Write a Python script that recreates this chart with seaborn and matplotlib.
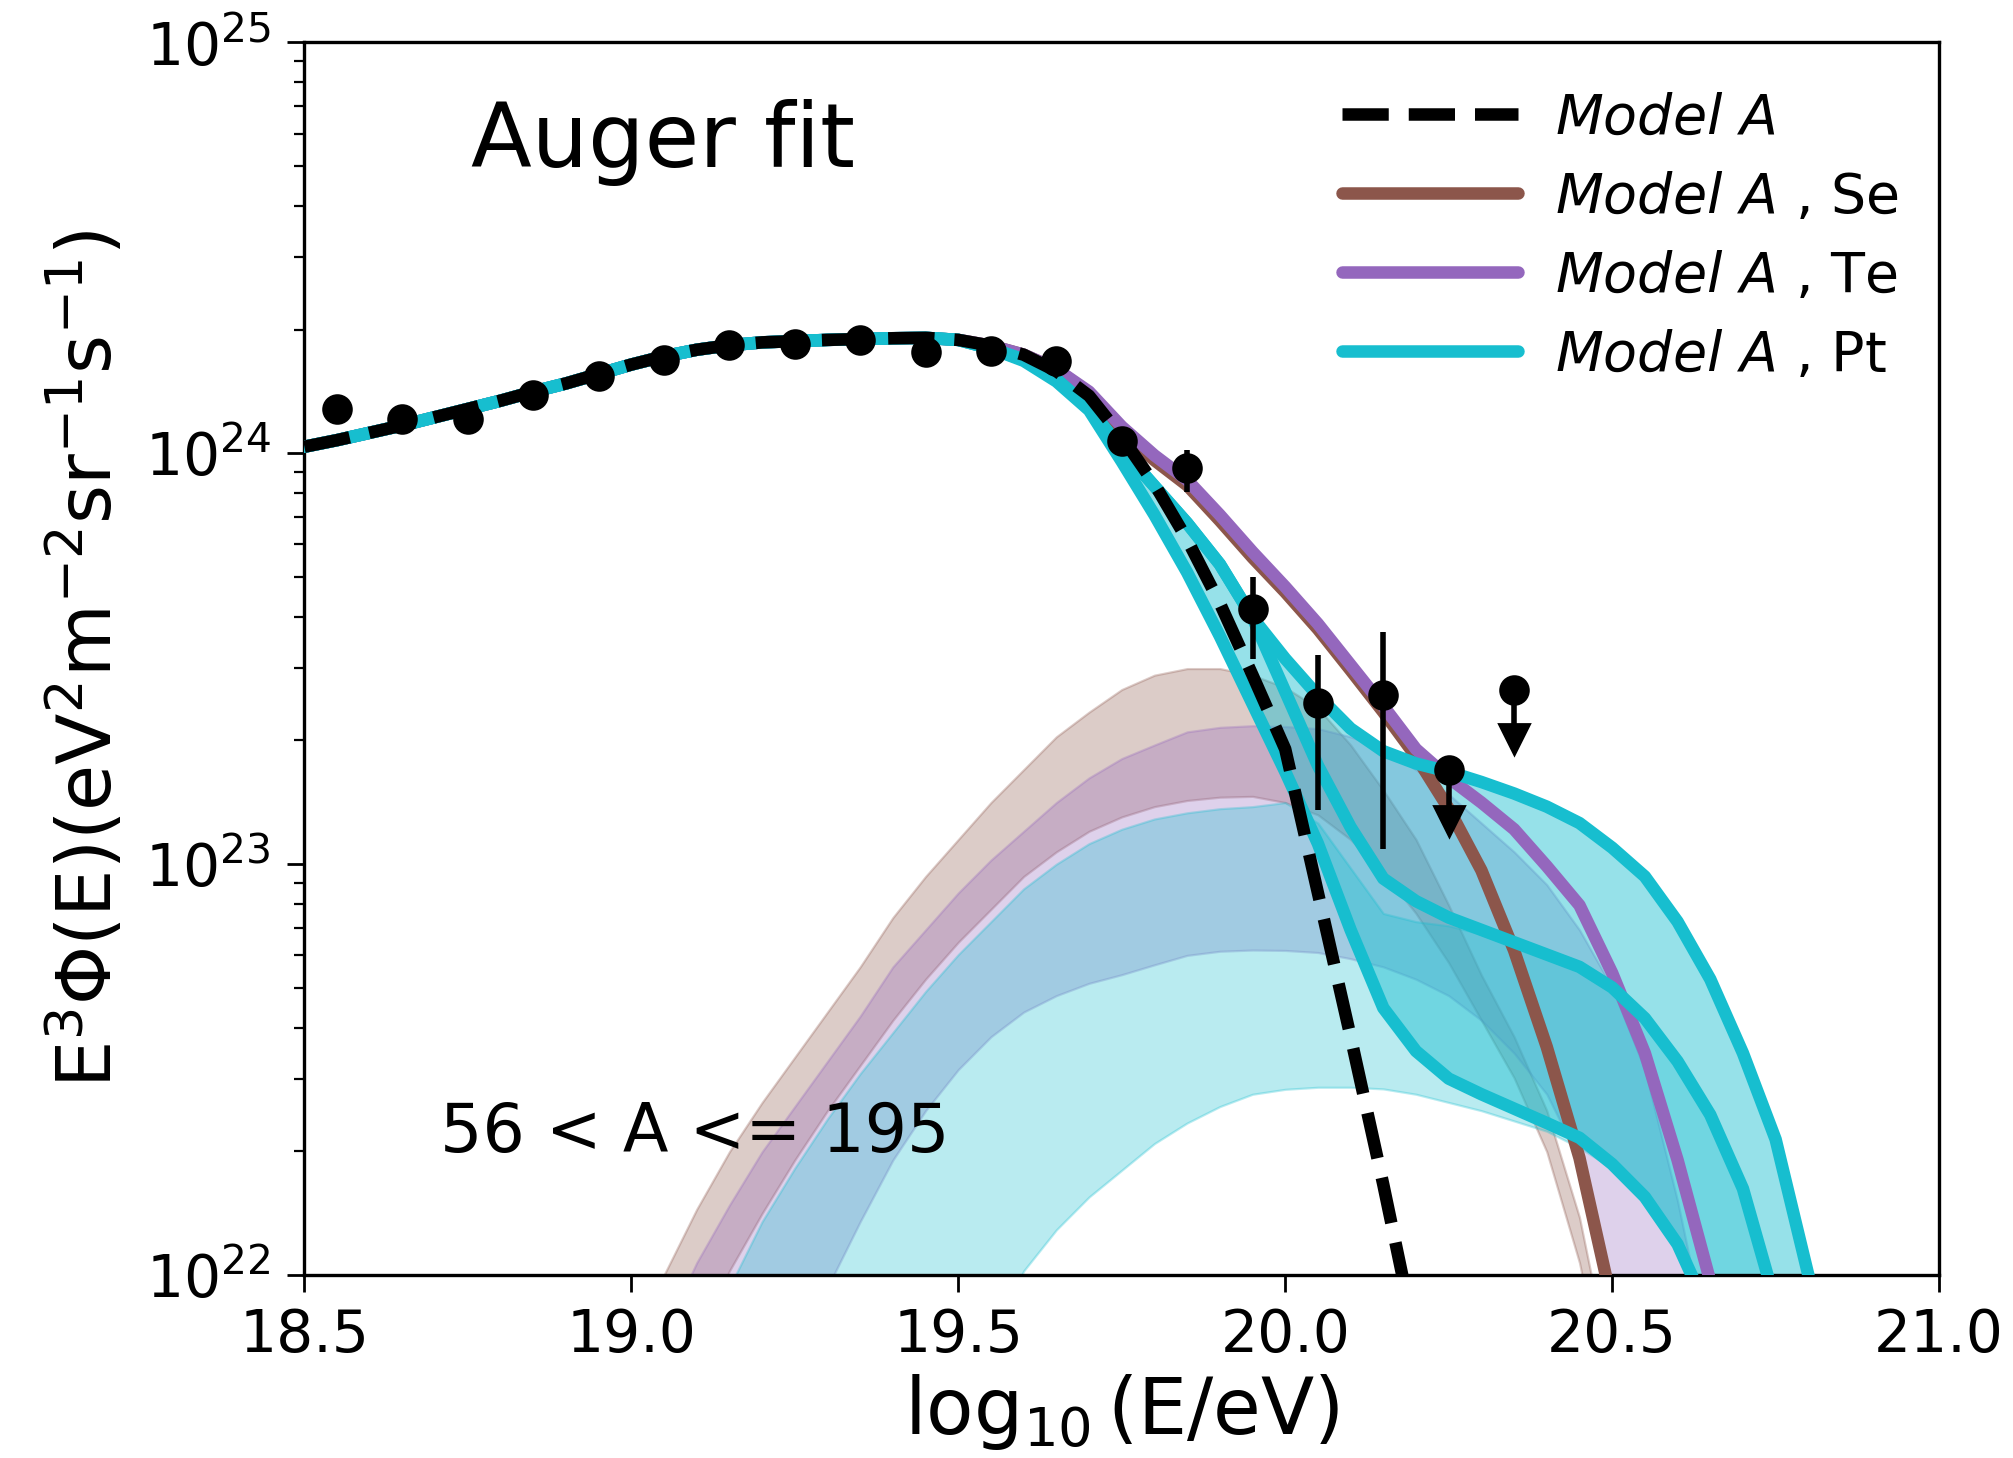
import numpy as np
import matplotlib
matplotlib.use("Agg")
import matplotlib.pyplot as plt
import seaborn as sns
from matplotlib.lines import Line2D

# all fluxes are log10 of E^3 Phi(E) in eV^2 m^-2 sr^-1 s^-1
# common part of the fits (all models agree below 19.5)
x_fit_left = [18.50, 18.55, 18.60, 18.65, 18.70, 18.75, 18.80, 18.85, 18.90, 18.95,
              19.00, 19.05, 19.10, 19.15, 19.20, 19.25, 19.30, 19.35, 19.40, 19.45, 19.50]
fit_left = [24.016, 24.032, 24.050, 24.068, 24.088, 24.108, 24.128, 24.150, 24.170, 24.193,
            24.216, 24.236, 24.252, 24.263, 24.270, 24.273, 24.276, 24.278, 24.280, 24.281, 24.276]

x_right = [19.55, 19.60, 19.65, 19.70, 19.75, 19.80, 19.85, 19.90, 19.95, 20.00,
           20.05, 20.10, 20.15, 20.20, 20.25, 20.30, 20.35, 20.40, 20.45, 20.50,
           20.55, 20.60, 20.65, 20.70, 20.75, 20.80, 20.85]
modelA_right = [24.262, 24.240, 24.200, 24.140, 24.040, 23.925, 23.790, 23.635, 23.460, 23.280,
                22.930, 22.580, 22.220, 21.840, 21.0, 21.0, 21.0, 21.0, 21.0, 21.0,
                21.0, 21.0, 21.0, 21.0, 21.0, 21.0, 21.0]
se_right = [24.262, 24.240, 24.205, 24.145, 24.052, 23.983, 23.922, 23.836, 23.746, 23.662,
            23.572, 23.472, 23.370, 23.262, 23.135, 22.985, 22.790, 22.555, 22.285, 21.930,
            21.0, 21.0, 21.0, 21.0, 21.0, 21.0, 21.0]
te_right = [24.262, 24.240, 24.205, 24.150, 24.065, 23.995, 23.935, 23.850, 23.760, 23.675,
            23.585, 23.485, 23.385, 23.280, 23.210, 23.150, 23.085, 22.995, 22.900, 22.735,
            22.540, 22.280, 21.985, 21.0, 21.0, 21.0, 21.0]
pt_top_right = [24.255, 24.228, 24.180, 24.110, 24.010, 23.920, 23.830, 23.730, 23.600, 23.500,
                23.410, 23.330, 23.275, 23.245, 23.225, 23.200, 23.172, 23.140, 23.100, 23.040,
                22.970, 22.860, 22.720, 22.540, 22.330, 22.000, 21.600]
pt_mid_right = [24.255, 24.228, 24.180, 24.110, 24.010, 23.920, 23.830, 23.730, 23.600, 23.420,
                23.240, 23.090, 22.965, 22.910, 22.870, 22.840, 22.810, 22.780, 22.750, 22.700,
                22.625, 22.520, 22.390, 22.210, 21.930, 21.0, 21.0]
pt_low_right = [24.255, 24.225, 24.175, 24.105, 23.980, 23.850, 23.710, 23.555, 23.390, 23.225,
                23.050, 22.840, 22.650, 22.545, 22.478, 22.440, 22.405, 22.370, 22.334, 22.270,
                22.190, 22.075, 21.900, 21.0, 21.0, 21.0, 21.0]

# heavy-component bands (56 < A <= 195)
x_band = x_fit_left[10:] + x_right
se_band_hi = [21.84, 22.00, 22.16, 22.30, 22.42, 22.53, 22.64, 22.75, 22.87, 22.97,
              23.06, 23.15, 23.23, 23.31, 23.37, 23.425, 23.46, 23.476, 23.476, 23.46,
              23.43, 23.38, 23.29, 23.18, 23.06, 22.90, 22.73, 22.58, 22.40, 22.14,
              21.75, 21.0, 21.0, 21.0, 21.0, 21.0, 21.0, 21.0]
se_band_lo = [21.0, 21.0, 21.84, 22.01, 22.15, 22.28, 22.40, 22.51, 22.62, 22.72,
              22.81, 22.89, 22.97, 23.03, 23.08, 23.115, 23.14, 23.155, 23.163, 23.165,
              23.15, 23.12, 23.06, 22.98, 22.88, 22.76, 22.62, 22.48, 22.30, 22.03,
              21.65, 21.0, 21.0, 21.0, 21.0, 21.0, 21.0, 21.0]
te_band_hi = [21.0, 21.86, 22.03, 22.17, 22.30, 22.41, 22.52, 22.63, 22.75, 22.84,
              22.93, 23.01, 23.08, 23.15, 23.21, 23.257, 23.29, 23.322, 23.333, 23.337,
              23.335, 23.33, 23.31, 23.28, 23.23, 23.17, 23.10, 23.03, 22.95, 22.84,
              22.70, 22.50, 22.18, 21.80, 21.0, 21.0, 21.0, 21.0]
te_band_lo = [21.0, 21.0, 21.0, 21.0, 21.0, 21.0, 21.97, 22.13, 22.28, 22.40,
              22.50, 22.58, 22.64, 22.68, 22.71, 22.731, 22.755, 22.778, 22.788, 22.791,
              22.79, 22.785, 22.77, 22.75, 22.72, 22.68, 22.62, 22.54, 22.44, 22.28,
              21.98, 21.50, 21.0, 21.0, 21.0, 21.0, 21.0, 21.0]
pt_band_hi = [21.0, 21.0, 21.0, 21.97, 22.13, 22.26, 22.38, 22.49, 22.59, 22.69,
              22.78, 22.86, 22.94, 23.00, 23.05, 23.085, 23.11, 23.125, 23.135, 23.14,
              23.15, 23.10, 22.99, 22.88, 22.86, 22.85, 22.83, 22.80, 22.775, 22.745,
              22.695, 22.62, 22.515, 22.385, 22.205, 21.925, 21.0, 21.0]
pt_band_lo = [21.0, 21.0, 21.0, 21.0, 21.0, 21.0, 21.0, 21.0, 21.0, 21.0,
              21.0, 21.85, 22.01, 22.11, 22.19, 22.255, 22.32, 22.37, 22.41, 22.44,
              22.452, 22.457, 22.457, 22.453, 22.44, 22.42, 22.40, 22.375, 22.35, 22.31,
              22.26, 22.18, 22.07, 21.90, 21.0, 21.0, 21.0, 21.0]

# Auger spectrum points
auger_x = [18.55, 18.65, 18.75, 18.85, 18.95, 19.05, 19.15, 19.25, 19.35,
           19.45, 19.55, 19.65, 19.75, 19.85, 19.95, 20.05, 20.15]
auger_y = [24.109, 24.084, 24.084, 24.141, 24.188, 24.228, 24.263, 24.266, 24.275,
           24.247, 24.250, 24.225, 24.031, 23.964, 23.620, 23.392, 23.412]
auger_lo = [24.100, 24.076, 24.076, 24.133, 24.180, 24.220, 24.255, 24.257, 24.265,
            24.235, 24.236, 24.208, 24.005, 23.907, 23.500, 23.132, 23.036]
auger_hi = [24.118, 24.092, 24.092, 24.149, 24.196, 24.236, 24.271, 24.275, 24.285,
            24.259, 24.264, 24.242, 24.055, 24.008, 23.700, 23.509, 23.564]
limit_x = [20.25, 20.35]
limit_y = [23.229, 23.424]
limit_tip = [23.105, 23.305]

SE, TE, PT = '#8c564b', '#9467bd', '#17becf'
LW = 4.5

sns.set_style("ticks", {"axes.edgecolor": "black", "xtick.color": "black",
                        "ytick.color": "black", "text.color": "black",
                        "axes.labelcolor": "black"})
plt.rcParams['font.family'] = ['DejaVu Sans']
plt.rcParams['mathtext.fontset'] = 'dejavusans'

fig = plt.figure(figsize=(2013 / 200, 1458 / 200), dpi=200)
ax = fig.add_axes([0.1512, 0.1255, 0.8121, 0.8454])
ax.set_yscale('log')

x_model = x_fit_left + x_right
modelA = np.array(fit_left + modelA_right)
se_tot = np.array(fit_left + se_right)
te_tot = np.array(fit_left + te_right)
pt_top = np.array(fit_left + pt_top_right)
pt_mid = np.array(fit_left + pt_mid_right)
pt_low = np.array(fit_left + pt_low_right)

# shaded heavy-nuclei bands
for lo, hi, c in [(se_band_lo, se_band_hi, SE), (te_band_lo, te_band_hi, TE),
                  (pt_band_lo, pt_band_hi, PT)]:
    ax.fill_between(x_band, 10 ** np.array(lo), 10 ** np.array(hi),
                    color=c, alpha=0.3, lw=0.8, zorder=1)

ax.fill_between(x_model, 10 ** pt_low, 10 ** pt_top, color=PT, alpha=0.45, lw=0, zorder=2)

sns.lineplot(x=x_model, y=10 ** se_tot, color=SE, lw=LW, ax=ax, zorder=3,
             estimator=None, sort=False)
sns.lineplot(x=x_model, y=10 ** te_tot, color=TE, lw=LW, ax=ax, zorder=3.2,
             estimator=None, sort=False)
for curve in [pt_low, pt_mid, pt_top]:
    sns.lineplot(x=x_model, y=10 ** curve, color=PT, lw=LW, ax=ax, zorder=4,
                 estimator=None, sort=False)
sns.lineplot(x=x_model, y=10 ** modelA, color='black', lw=LW, ls='--', ax=ax, zorder=5,
             estimator=None, sort=False)

# data
y = 10 ** np.array(auger_y)
ax.errorbar(auger_x, y, yerr=[y - 10 ** np.array(auger_lo), 10 ** np.array(auger_hi) - y],
            fmt='o', color='black', ms=10, elinewidth=2, capsize=0, zorder=6)
yl = 10 ** np.array(limit_y)
ax.errorbar(limit_x, yl, yerr=[yl - 10 ** np.array(limit_tip), [0, 0]],
            fmt='o', color='black', ms=10, elinewidth=2, capsize=0, zorder=6)
ax.plot(limit_x, 10 ** np.array(limit_tip), 'v', color='black', ms=11, zorder=6)

ax.set_xlim(18.5, 21.0)
ax.set_ylim(1e22, 1e25)
ax.set_xticks([18.5, 19.0, 19.5, 20.0, 20.5, 21.0])
ax.set_xticklabels(['18.5', '19.0', '19.5', '20.0', '20.5', '21.0'])
ax.tick_params(axis='both', which='major', labelsize=21, length=6, width=1.0)
ax.tick_params(axis='x', which='major', pad=5.5)
ax.tick_params(axis='y', which='major', pad=6)
ax.tick_params(axis='y', which='minor', length=3.5, width=0.8)
for s in ax.spines.values():
    s.set_linewidth(1.2)
    s.set_color('black')

ax.set_xlabel(r'$\log_{10}$(E/eV)', fontsize=28, labelpad=3)
ax.set_ylabel(r'E$^3\Phi$(E)(eV$^2$m$^{-2}$sr$^{-1}$s$^{-1}$)', fontsize=27, labelpad=6)

ax.text(0.102, 0.899, 'Auger fit', transform=ax.transAxes, fontsize=32, va='baseline')
ax.text(0.083, 0.100, '56 < A <= 195', transform=ax.transAxes, fontsize=24, va='baseline')

handles = [Line2D([], [], color='black', lw=LW, ls='--'),
           Line2D([], [], color=SE, lw=LW),
           Line2D([], [], color=TE, lw=LW),
           Line2D([], [], color=PT, lw=LW)]
labels = [r'$Model\ A$', r'$Model\ A$ , Se', r'$Model\ A$ , Te', r'$Model\ A$ , Pt']
ax.legend(handles, labels, loc='upper left', bbox_to_anchor=(0.6345, 0.960),
          frameon=False, fontsize=20, handlelength=3.17, handletextpad=0.67,
          labelspacing=0.45, borderpad=0, borderaxespad=0)

fig.savefig('out.png', dpi=200)
